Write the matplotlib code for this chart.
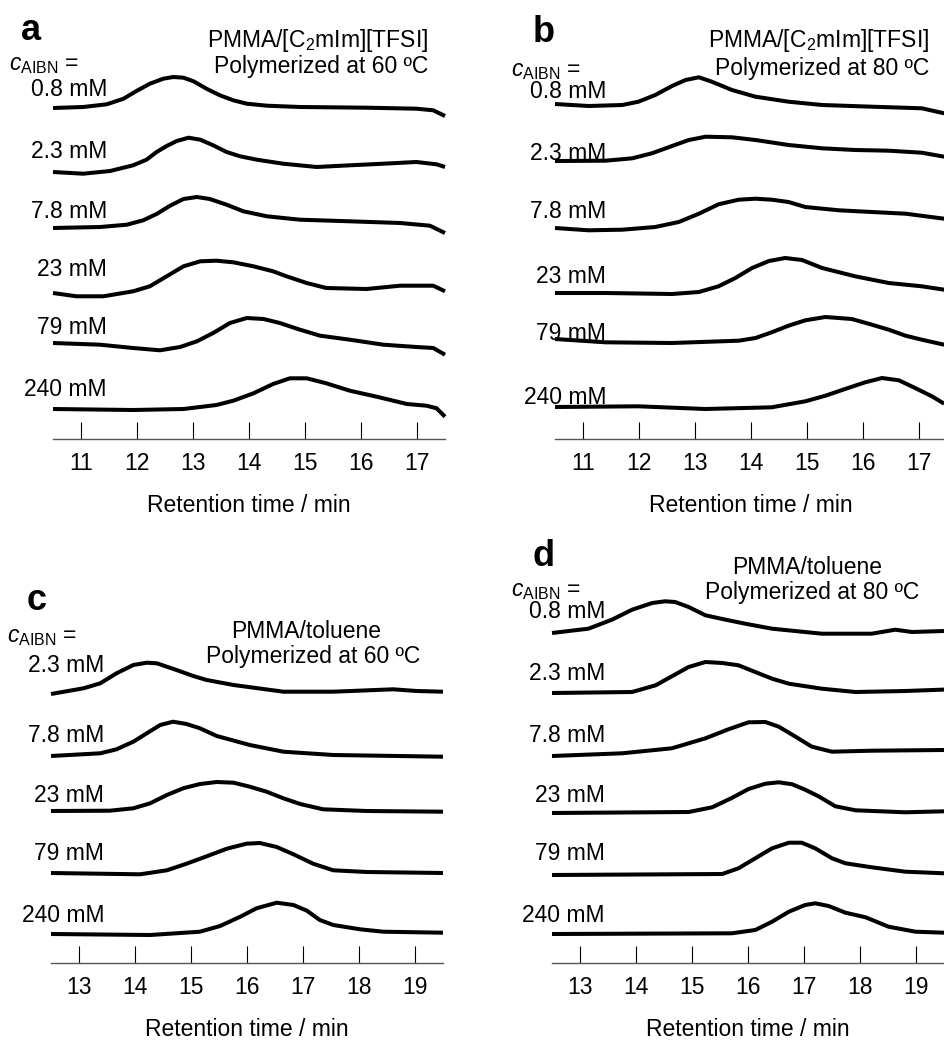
import matplotlib
matplotlib.use("Agg")
from matplotlib import pyplot as plt

plt.rcParams['font.family'] = ['Liberation Sans', 'DejaVu Sans']
plt.rcParams['mathtext.fontset'] = 'custom'
plt.rcParams['mathtext.rm'] = 'Liberation Sans'
plt.rcParams['mathtext.it'] = 'Liberation Sans:italic'
plt.rcParams['mathtext.bf'] = 'Liberation Sans:bold'

W, H = 944, 1041
FS = 16.5

conc_top = ['0.8 mM', '2.3 mM', '7.8 mM', '23 mM', '79 mM', '240 mM']
conc_c = ['2.3 mM', '7.8 mM', '23 mM', '79 mM', '240 mM']
ticks_ab = [11, 12, 13, 14, 15, 16, 17]
ticks_cd = [13, 14, 15, 16, 17, 18, 19]

# --- panel a : PMMA/[C2mIm][TFSI], 60 C (heights relative to each baseline)
t_a1 = [10.5, 11.04, 11.46, 11.76, 11.99, 12.23, 12.47, 12.65, 12.83, 13.01, 13.24, 13.48, 13.72, 13.96, 14.32, 14.91, 16.1, 16.99, 17.29, 17.5]
h_a1 = [0, 1, 3.7, 9.3, 17, 24.3, 29.3, 31, 30.3, 26.7, 19.3, 12.7, 7.7, 4.3, 2.3, 1, 0.3, -0.7, -2.3, -8]
t_a2 = [10.5, 11.04, 11.52, 11.93, 12.17, 12.35, 12.53, 12.71, 12.92, 13.13, 13.36, 13.6, 13.84, 14.14, 14.61, 15.21, 15.8, 16.4, 16.99, 17.35, 17.5]
h_a2 = [0, -1.7, 1, 6.7, 12.3, 20, 26, 31, 34.3, 32.3, 26.7, 20, 15.7, 12.3, 8.3, 5, 6.7, 8.3, 10, 7.7, 5]
t_a3 = [10.5, 11.34, 11.82, 12.11, 12.35, 12.59, 12.83, 13.07, 13.3, 13.6, 13.9, 14.32, 14.91, 15.8, 16.7, 17.23, 17.5]
h_a3 = [0, 1, 3.3, 7.7, 14, 22.3, 29, 31, 29, 23.3, 16.7, 11.7, 8.3, 6.7, 5, 2.3, -5]
t_a4 = [10.5, 10.92, 11.4, 11.93, 12.23, 12.53, 12.83, 13.13, 13.42, 13.72, 14.08, 14.43, 14.67, 15.03, 15.38, 16.1, 16.7, 17.29, 17.5]
h_a4 = [0, -3.3, -3.3, 1.7, 6.7, 16.7, 26.7, 31.7, 32.3, 30.7, 26.7, 21.7, 16.7, 10, 5, 4, 7.3, 7.3, 1.7]
t_a5 = [10.5, 11.34, 11.93, 12.41, 12.77, 13.07, 13.36, 13.66, 13.96, 14.26, 14.55, 14.91, 15.27, 15.8, 16.4, 16.99, 17.29, 17.5]
h_a5 = [0, -1.7, -5, -7.3, -4, 1.7, 10, 20, 25, 24, 20, 13.3, 7.3, 3.3, -1.7, -4, -5, -11.7]
t_a6 = [10.5, 11.93, 12.83, 13.42, 13.72, 14.08, 14.43, 14.73, 15.03, 15.38, 15.8, 16.28, 16.82, 17.17, 17.35, 17.5]
h_a6 = [0, -1, 0, 4, 8.3, 15.7, 25, 30.7, 30.7, 25.7, 18.3, 12.3, 5, 3.3, 0.7, -7.7]

# --- panel b : PMMA/[C2mIm][TFSI], 80 C
t_b1 = [10.5, 11.1, 11.7, 11.99, 12.29, 12.59, 12.83, 13.07, 13.3, 13.66, 14.08, 14.67, 15.27, 16.16, 17.05, 17.45]
h_b1 = [0, -2, -1, 2.3, 9, 18, 24, 26.7, 22.3, 14, 7.3, 2.3, -1, -2.7, -4.3, -9.3]
t_b2 = [10.5, 11.4, 11.88, 12.23, 12.59, 12.89, 13.19, 13.66, 14.08, 14.67, 15.27, 15.86, 16.46, 17.05, 17.45]
h_b2 = [0, 0.3, 2.7, 7.7, 15, 21, 24.3, 23.7, 21, 16, 12.7, 11, 10.3, 8.3, 4.3]
t_b3 = [10.5, 11.1, 11.7, 12.29, 12.71, 13.07, 13.42, 13.78, 14.08, 14.37, 14.67, 14.97, 15.57, 16.16, 16.76, 17.45]
h_b3 = [0, -2.3, -1.7, 1, 6, 14.3, 23.7, 28.3, 29.3, 28.3, 26, 21, 17.7, 16, 14.3, 9.3]
t_b4 = [10.5, 11.4, 12.59, 13.07, 13.42, 13.72, 14.02, 14.32, 14.61, 14.91, 15.27, 15.86, 16.46, 17.05, 17.45]
h_b4 = [0, 0, -1, 1, 6.7, 15, 25, 32, 35, 33, 25, 16.7, 10, 6.7, 3.3]
t_b5 = [10.5, 11.4, 12.59, 13.78, 14.08, 14.37, 14.67, 14.97, 15.33, 15.8, 16.16, 16.46, 16.76, 17.05, 17.45]
h_b5 = [0, -3.3, -4, -1.7, 1, 6.7, 13.3, 18.7, 22, 20, 14.3, 9.3, 3.3, -0.7, -5.7]
t_b6 = [10.5, 11.99, 13.18, 14.37, 14.97, 15.33, 15.68, 16.04, 16.34, 16.64, 16.93, 17.23, 17.45]
h_b6 = [0, 0.7, -2, -0.3, 5.7, 11.3, 18, 24.7, 29, 26.7, 19, 10.7, 3.3]

# --- panel c : PMMA/toluene, 60 C
t_c1 = [12.5, 13.08, 13.38, 13.67, 13.97, 14.21, 14.39, 14.74, 15.04, 15.28, 15.76, 16.65, 17.54, 18.61, 19.03, 19.5]
h_c1 = [0, 5.7, 10.7, 20.7, 29, 31.3, 30.7, 24, 18, 14, 9, 2.3, 2.3, 4.7, 3, 2.3]
t_c2 = [12.5, 13.38, 13.67, 13.97, 14.21, 14.45, 14.68, 14.92, 15.16, 15.46, 16.05, 16.65, 17.54, 19.5]
h_c2 = [0, 2.7, 6.7, 14.3, 22.7, 31, 34.3, 32, 27.7, 20, 11, 4.3, 1, -0.7]
t_c3 = [12.5, 13.55, 13.97, 14.27, 14.57, 14.86, 15.16, 15.46, 15.76, 16.05, 16.35, 16.65, 16.95, 17.36, 18.14, 19.5]
h_c3 = [0, 0.3, 2.7, 7.7, 16, 22.7, 27, 29, 28.3, 24.3, 19.3, 12.7, 7, 1.7, 0, -0.7]
t_c4 = [12.5, 14.09, 14.57, 14.92, 15.28, 15.64, 15.99, 16.23, 16.53, 16.83, 17.18, 17.54, 18.14, 19.5]
h_c4 = [0, -1.3, 2.7, 9.3, 16.7, 24.3, 29.3, 30, 26, 18.7, 9.3, 2.7, 1, 0]
t_c5 = [12.5, 14.27, 15.16, 15.52, 15.88, 16.17, 16.53, 16.83, 17.07, 17.3, 17.54, 18.02, 18.43, 19.5]
h_c5 = [0, -1, 2.3, 8, 17.3, 25.7, 31.3, 29, 23.3, 14, 9, 4.7, 2.3, 1.3]

# --- panel d : PMMA/toluene, 80 C
t_d1 = [12.5, 13.15, 13.57, 13.93, 14.29, 14.52, 14.7, 14.94, 15.24, 15.6, 15.95, 16.43, 17.32, 18.21, 18.63, 18.93, 19.5]
h_d1 = [0, 4.3, 13.3, 23.3, 30, 31.7, 31, 26, 17.7, 13.3, 9.3, 4.3, -0.7, -0.7, 3.3, 1, 2]
t_d2 = [12.5, 13.93, 14.35, 14.64, 14.94, 15.24, 15.54, 15.83, 16.13, 16.43, 16.73, 17.32, 17.92, 18.81, 19.5]
h_d2 = [0, 1, 7.7, 16.7, 26, 31, 30, 27.7, 21, 14.3, 9.3, 4.3, 1, 2, 3.4]
t_d3 = [12.5, 13.75, 14.64, 15.24, 15.65, 16.01, 16.31, 16.55, 16.85, 17.14, 17.5, 18.21, 19.5]
h_d3 = [0, 2.7, 7.7, 17.7, 26.7, 33.7, 34, 29.3, 19.3, 9.3, 4.3, 5.3, 6]
t_d4 = [12.5, 14.94, 15.36, 15.71, 16.01, 16.31, 16.55, 16.79, 17.02, 17.26, 17.56, 17.92, 18.81, 19.5]
h_d4 = [0, 1, 5.7, 15, 24, 29.3, 30.7, 28.7, 23.3, 16.7, 6.7, 2.7, 0.7, 1.7]
t_d5 = [12.5, 15.54, 15.83, 16.13, 16.43, 16.73, 16.96, 17.2, 17.5, 17.74, 18.21, 18.81, 19.5]
h_d5 = [0, 1, 6.7, 16.7, 26.7, 32.3, 32.3, 26.7, 16.7, 11.7, 7.7, 3.3, 1.7]
t_d6 = [12.5, 15.71, 16.13, 16.43, 16.73, 17.02, 17.2, 17.44, 17.74, 18.1, 18.51, 18.99, 19.5]
h_d6 = [0, 0.7, 4, 12.3, 22.3, 29, 30.7, 28, 21.3, 16.7, 7.3, 2.3, 1.3]


def px_axes(fig, left, right, top, bottom):
    # axes placed in figure pixels, y unit = 1 px
    ax = fig.add_axes([left / W, 1 - bottom / H, (right - left) / W, (bottom - top) / H])
    ax.set_ylim(0, bottom - top)
    for s in ('left', 'top', 'right'):
        ax.spines[s].set_visible(False)
    ax.spines['bottom'].set_color('#555555')
    ax.spines['bottom'].set_linewidth(1.0)
    ax.set_yticks([])
    ax.patch.set_alpha(0)
    return ax


def draw_panel(ax, traces, baselines, axis_px, xlim, ticks):
    for (t, h), b in zip(traces, baselines):
        off = axis_px - b
        ax.plot(t, [v + off for v in h], color='black', lw=2.9,
                solid_capstyle='butt', solid_joinstyle='round', clip_on=False)
    ax.set_xlim(*xlim)
    ax.set_xticks(ticks)
    ax.tick_params(axis='x', direction='in', length=12, width=0.8, color='black',
                   labelsize=FS, pad=9)
    ax.set_xlabel('Retention time / min', fontsize=FS, labelpad=14)


def label(x, y, s, ha='right', size=FS, **kw):
    return fig.text(x / W, 1 - y / H, s, ha=ha, va='center', fontsize=size, **kw)


fig = plt.figure(figsize=(W / 100, H / 100), dpi=100)

# panel a
ax_a = px_axes(fig, 53, 445, 0, 439)
draw_panel(ax_a, [(t_a1, h_a1), (t_a2, h_a2), (t_a3, h_a3), (t_a4, h_a4), (t_a5, h_a5), (t_a6, h_a6)],
           [108, 172, 228, 293, 343, 409], 439, (10.5, 17.5), ticks_ab)
for s, y in zip(conc_top, [90, 152, 212, 270, 328, 389]):
    label(107, y, s)

# panel b
ax_b = px_axes(fig, 555, 947, 0, 439)
draw_panel(ax_b, [(t_b1, h_b1), (t_b2, h_b2), (t_b3, h_b3), (t_b4, h_b4), (t_b5, h_b5), (t_b6, h_b6)],
           [104, 161, 228, 293, 339, 407], 439, (10.5, 17.5), ticks_ab)
for s, y in zip(conc_top, [92, 153, 212, 277, 333, 397]):
    label(606, y, s)

# panel c
ax_c = px_axes(fig, 51, 443, 520, 963)
draw_panel(ax_c, [(t_c1, h_c1), (t_c2, h_c2), (t_c3, h_c3), (t_c4, h_c4), (t_c5, h_c5)],
           [694, 756, 811, 873, 934], 963, (12.5, 19.5), ticks_cd)
for s, y in zip(conc_c, [666, 735, 795, 854, 915]):
    label(104, y, s)

# panel d
ax_d = px_axes(fig, 552, 944, 520, 963)
draw_panel(ax_d, [(t_d1, h_d1), (t_d2, h_d2), (t_d3, h_d3), (t_d4, h_d4), (t_d5, h_d5), (t_d6, h_d6)],
           [633, 693, 756, 813, 875, 934], 963, (12.5, 19.5), ticks_cd)
for s, y in zip(conc_top, [612, 674, 735, 795, 853, 915]):
    label(605, y, s)

# panel letters, c_AIBN and titles
for x, y, s in [(21, 31, 'a'), (533, 33, 'b'), (27, 600, 'c'), (533, 557, 'd')]:
    label(x, y, s, ha='left', size=26, fontweight='bold')

cab = r'$c_{\mathrm{AIBN}}$ ='
for x, y in [(9, 64), (511, 70), (7, 637), (511, 590)]:
    label(x, y, cab, ha='left')

label(428, 40, r'PMMA/[C$_2$mIm][TFSI]')
label(428, 66, 'Polymerized at 60 ºC')
label(929, 40, r'PMMA/[C$_2$mIm][TFSI]')
label(929, 68, 'Polymerized at 80 ºC')
label(306, 632, 'PMMA/toluene', ha='center')
label(313, 657, 'Polymerized at 60 ºC', ha='center')
label(807, 568, 'PMMA/toluene', ha='center')
label(812, 593, 'Polymerized at 80 ºC', ha='center')

fig.savefig('out.png', dpi=100)
